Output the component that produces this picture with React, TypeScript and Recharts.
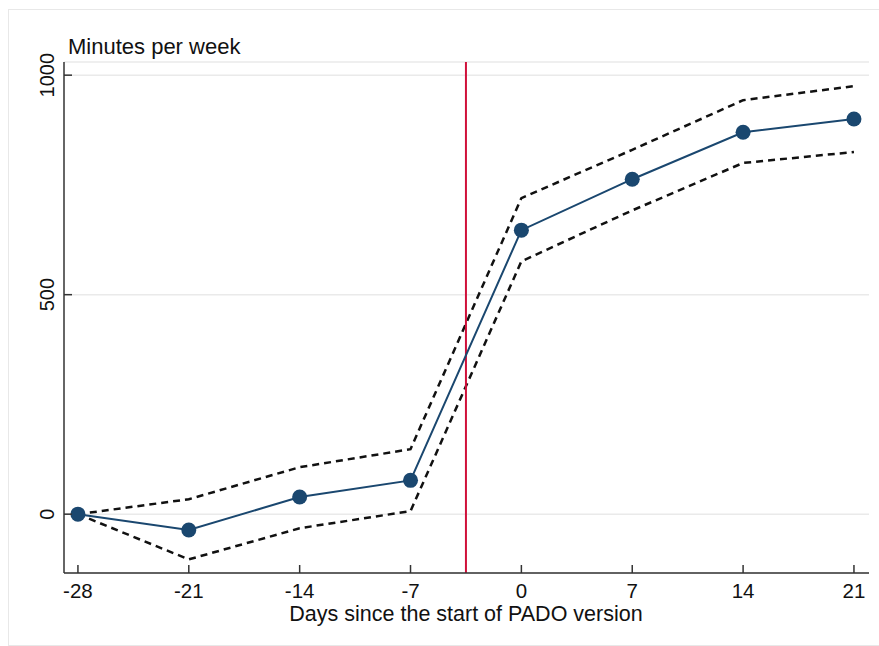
import React from "react";
import {
  LineChart,
  Line,
  XAxis,
  YAxis,
  CartesianGrid,
  ReferenceLine,
} from "recharts";

const days = [-28, -21, -14, -7, 0, 7, 14, 21];
const estimate = [0, -36, 39, 77, 647, 763, 870, 900];
const upperCI = [0, 34, 107, 148, 720, 830, 943, 975];
const lowerCI = [0, -103, -32, 7, 576, 692, 800, 825];

const xTicks = [-28, -21, -14, -7, 0, 7, 14, 21];
const yTicks = [0, 500, 1000];
const startLine = -3.5;

const data = days.map((d, i) => ({
  day: d,
  est: estimate[i],
  hi: upperCI[i],
  lo: lowerCI[i],
}));

const W = 879;
const H = 646;
const PLOT_LEFT = 64;
const PLOT_BOTTOM = 573;
const FONT = "'Liberation Sans', Arial, sans-serif";
const NAVY = "#1a476f";

function XTick(props: any) {
  const { x, payload } = props;
  return (
    <g>
      <line x1={x} x2={x} y1={PLOT_BOTTOM} y2={PLOT_BOTTOM - 8} stroke="#333" strokeWidth={1.5} />
      <text x={x} y={PLOT_BOTTOM + 25} textAnchor="middle" fontSize={20.5} fontFamily={FONT} fill="#111">
        {payload.value}
      </text>
    </g>
  );
}

function YTick(props: any) {
  const { y, payload } = props;
  const bx = PLOT_LEFT - 10;
  return (
    <g>
      <line x1={PLOT_LEFT} x2={PLOT_LEFT + 8} y1={y} y2={y} stroke="#333" strokeWidth={1.5} />
      <text
        x={bx}
        y={y}
        textAnchor="middle"
        fontSize={20}
        fontFamily={FONT}
        fill="#111"
        transform={`rotate(-90, ${bx}, ${y})`}
      >
        {payload.value}
      </text>
    </g>
  );
}

export default function App() {
  return (
    <div style={{ position: "absolute", left: 0, top: 0, width: W, height: H, background: "#fff", overflow: "hidden" }}>
      <div
        style={{
          position: "absolute",
          left: 8,
          top: 9,
          width: 900,
          height: 637,
          borderTop: "1px solid #e8e8e8",
          borderLeft: "1px solid #e8e8e8",
          borderBottom: "1px solid #e8e8e8",
          boxSizing: "border-box",
        }}
      />
      <LineChart
        width={W}
        height={H}
        data={data}
        margin={{ top: 62, right: 10, left: 0, bottom: 0 }}
        style={{ position: "absolute", left: 0, top: 0 }}
      >
        <CartesianGrid horizontal vertical={false} stroke="#eaeaea" strokeWidth={1.5} />
        <XAxis
          dataKey="day"
          type="number"
          domain={[-28.88, 21.95]}
          ticks={xTicks}
          height={73}
          axisLine={{ stroke: "#333", strokeWidth: 1.5 }}
          tickLine={false}
          tick={<XTick />}
          interval={0}
        />
        <YAxis
          type="number"
          domain={[-134, 1030]}
          ticks={yTicks}
          width={64}
          axisLine={{ stroke: "#333", strokeWidth: 1.5 }}
          tickLine={false}
          tick={<YTick />}
          interval={0}
        />
        <Line
          dataKey="hi"
          stroke="#111"
          strokeWidth={2.5}
          strokeDasharray="7 5"
          dot={false}
          isAnimationActive={false}
        />
        <Line
          dataKey="lo"
          stroke="#111"
          strokeWidth={2.5}
          strokeDasharray="7 5"
          dot={false}
          isAnimationActive={false}
        />
        <ReferenceLine x={startLine} stroke="#d0103a" strokeWidth={2} />
        <Line
          dataKey="est"
          stroke={NAVY}
          strokeWidth={2}
          dot={{ r: 7.5, fill: NAVY, stroke: "none" }}
          isAnimationActive={false}
        />
      </LineChart>
      <svg width={W} height={H} style={{ position: "absolute", left: 0, top: 0, pointerEvents: "none" }}>
        <text x={68} y={54} fontSize={22} fontFamily={FONT} fill="#111">
          Minutes per week
        </text>
        <text x={466} y={621} textAnchor="middle" fontSize={21.5} fontFamily={FONT} fill="#111">
          Days since the start of PADO version
        </text>
      </svg>
    </div>
  );
}
